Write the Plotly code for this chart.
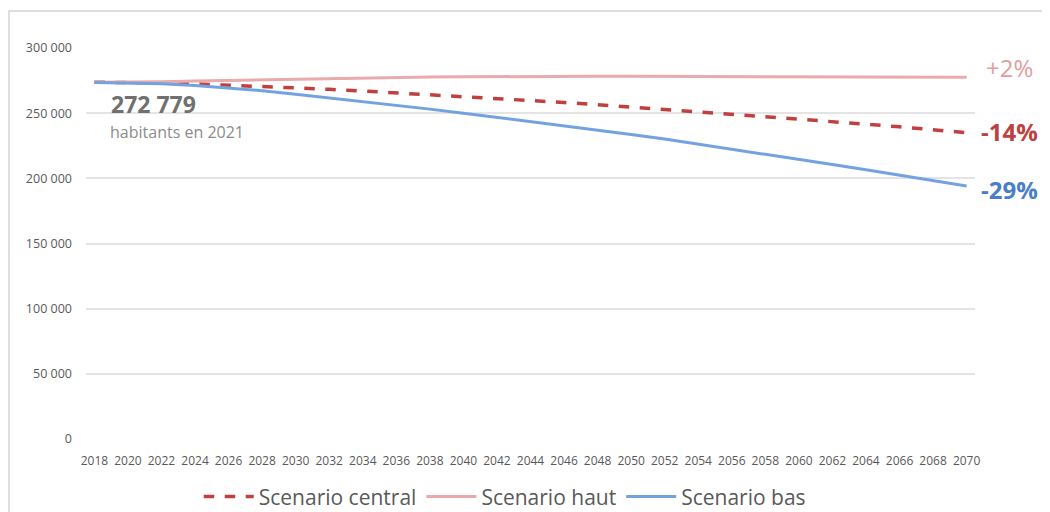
import plotly.graph_objects as go

years = list(range(2018, 2071, 2))

scenario_haut = [273800, 273900, 274200, 274700, 275200, 275700, 276200, 276700, 277100,
                 277400, 277700, 277900, 278100, 278200, 278300, 278300, 278300, 278200,
                 278100, 277900, 277700, 277600, 277500, 277400, 277400, 277400, 277500]

scenario_central = [273800, 273600, 273200, 272500, 271600, 270600, 269500, 268300, 267000,
                    265600, 264200, 262800, 261300, 259800, 258200, 256500, 254700, 252900,
                    251100, 249300, 247500, 245600, 243600, 241600, 239500, 237300, 235000]

scenario_bas = [273600, 273300, 272600, 271300, 269500, 267200, 264600, 261800, 259000,
                256100, 253100, 250000, 246800, 243600, 240300, 237000, 233600, 230100,
                226300, 222400, 218500, 214600, 210600, 206600, 202500, 198300, 194100]

y_ticks = [0, 50000, 100000, 150000, 200000, 250000, 300000]
y_ticktext = ["0", "50 000", "100 000", "150 000", "200 000", "250 000", "300 000"]

end_labels = ["+2%", "<b>-14%</b>", "<b>-29%</b>"]
end_label_values = [284700, 235600, 191100]

pop_2021 = "272 779"
pop_2021_caption = "habitants en 2021"

FONT = "Open Sans"
GRAY = "#595959"

fig = go.Figure()
fig.add_trace(go.Scatter(x=years, y=scenario_central, mode="lines", name="Scenario central",
                         line=dict(color="#c0403f", width=3.5, dash="dash")))
fig.add_trace(go.Scatter(x=years, y=scenario_haut, mode="lines", name="Scenario haut",
                         line=dict(color="#e8aaaa", width=3)))
fig.add_trace(go.Scatter(x=years, y=scenario_bas, mode="lines", name="Scenario bas",
                         line=dict(color="#73a2e0", width=3)))

fig.update_layout(
    width=1050, height=512,
    margin=dict(l=78, r=83, t=40, b=81),
    paper_bgcolor="white", plot_bgcolor="white",
    font=dict(family=FONT, color=GRAY),
    showlegend=True,
    legend=dict(orientation="h", x=0.471, xanchor="center",
                yref="container", y=0.045, yanchor="middle",
                font=dict(size=21, color=GRAY, family=FONT), itemwidth=50,
                traceorder="normal"),
    xaxis=dict(range=[2017.5, 2070.5], tickmode="array", tickvals=years,
               ticktext=[str(y) for y in years], showgrid=False, zeroline=False,
               showline=False, tickfont=dict(size=12, color=GRAY, family=FONT),
               ticklabelstandoff=13, fixedrange=True, automargin=False),
    yaxis=dict(range=[0, 300000], tickmode="array", tickvals=y_ticks, ticktext=y_ticktext,
               showgrid=True, gridcolor="#e4e4e4", gridwidth=1.5, zeroline=False,
               showline=False, tickfont=dict(size=12.5, color=GRAY, family=FONT),
               ticklabelstandoff=13, fixedrange=True, automargin=False),
)

# frame around the chart
fig.add_shape(type="rect", xref="paper", yref="paper",
              x0=-0.0866, x1=1.2, y0=-0.3, y1=1.0946,
              line=dict(color="#d4d4d4", width=1.5), fillcolor="rgba(0,0,0,0)", layer="below")

end_colors = ["#e39d9d", "#c0403f", "#4a7ec8"]
for txt, val, col in zip(end_labels, end_label_values, end_colors):
    fig.add_annotation(x=1.039, xref="paper", y=val, yref="y", text=txt, showarrow=False,
                       xanchor="center", yanchor="middle",
                       font=dict(size=24, color=col, family=FONT))

fig.add_annotation(x=0.0259, xref="paper", y=257050, yref="y", text="<b>%s</b>" % pop_2021,
                   showarrow=False, xanchor="left", yanchor="middle",
                   font=dict(size=23, color="#707070", family=FONT))
fig.add_annotation(x=0.0248, xref="paper", y=235600, yref="y", text=pop_2021_caption,
                   showarrow=False, xanchor="left", yanchor="middle",
                   font=dict(size=16, color="#8c8c8c", family=FONT))

fig.write_html("out.html")
